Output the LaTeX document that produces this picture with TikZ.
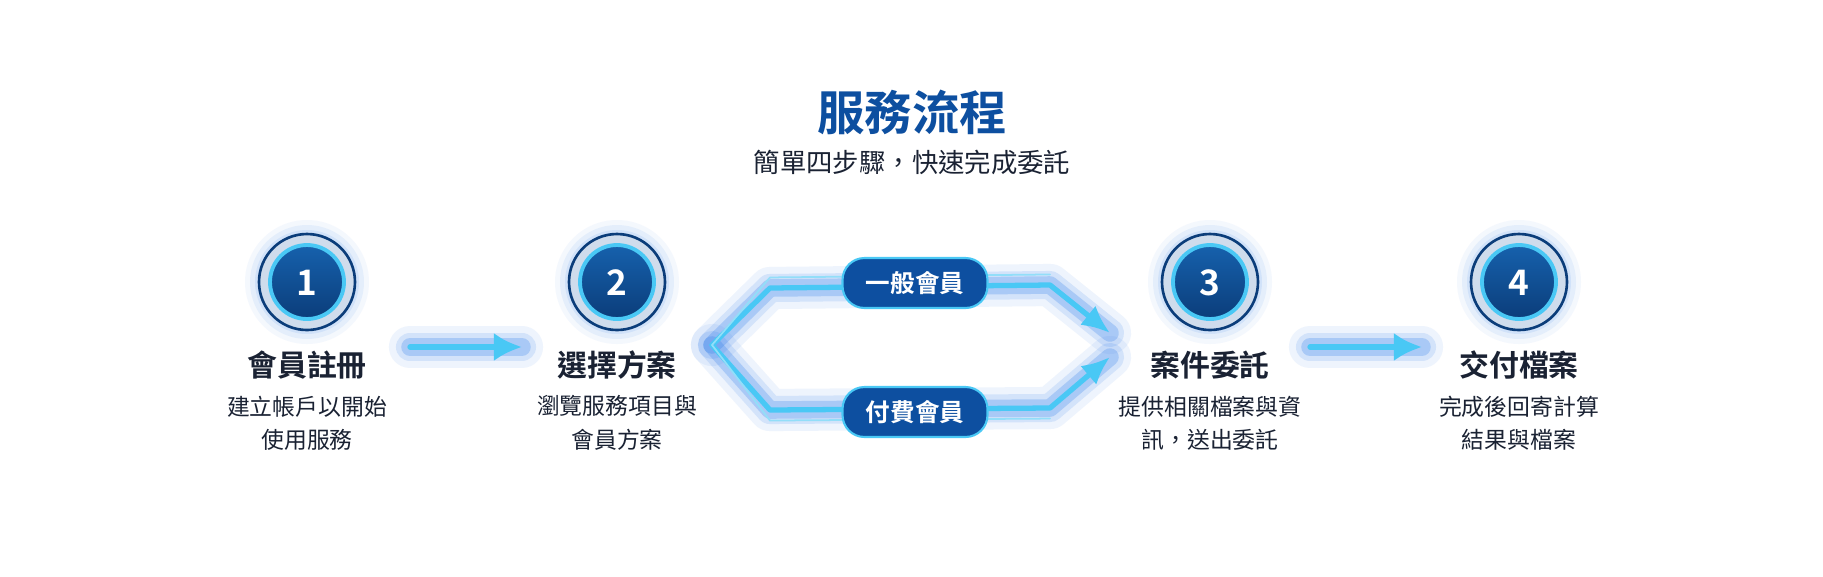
\documentclass[tikz,border=0pt]{standalone}
\usepackage{fontspec}
\setmainfont{Noto Sans CJK TC}
\newfontfamily\cjkb{Noto Sans CJK TC Bold}
\usetikzlibrary{arrows.meta}
\definecolor{navy}{HTML}{0B3D7A}
\definecolor{dblue}{HTML}{0D4FA0}
\definecolor{cyan1}{HTML}{49C8F5}
\definecolor{glow}{HTML}{2F7CEB}
\definecolor{ttl}{HTML}{1A2233}
\begin{document}
\begin{tikzpicture}[x=0.02cm,y=-0.02cm,
  glowline/.style={line cap=round,line join=round},
  ttltext/.style={font=\cjkb\fontsize{17}{20}\selectfont,text=ttl},
  subtext/.style={font=\fontsize{13}{19}\selectfont,text=ttl,align=center},
  pill/.style={rounded corners=12.5pt,minimum width=2.9cm,minimum height=1cm,fill=dblue,draw=cyan1,line width=1.2pt,text=white,font=\cjkb\fontsize{14}{16}\selectfont},
  numtext/.style={text=white,font=\cjkb\fontsize{20}{22}\selectfont}]
\useasboundingbox (0,0) rectangle (1823,576);
\fill[white] (0,0) rectangle (1823,576);
\node[font=\cjkb\fontsize{27}{30}\selectfont,text=dblue] (title) at (912,112) {服務流程};
\node[font=\fontsize{15}{18}\selectfont,text=ttl] (sub) at (912,162) {簡單四步驟，快速完成委託};
% circles
\foreach \i/\x/\n in {1/307/1,2/617/2,3/1210/3,4/1519/4}{
  \foreach \r/\o in {62/0.05,57/0.08,52/0.1}{\fill[glow,opacity=\o] (\x,282) circle[radius=\r];}
  \fill[white!80!dblue] (\x,282) circle[radius=48];
  \draw[navy,line width=1.5pt] (\x,282) circle[radius=48];
  \shade[top color=dblue!85!cyan1,bottom color=navy] (\x,282) circle[radius=37];
  \draw[cyan1,line width=2.2pt] (\x,282) circle[radius=37];
  \node[numtext] (c\i) at (\x,283) {\n};
}
\node[ttltext] (t1) at (307,365) {會員註冊};
\node[subtext] (s1) at (307,423) {建立帳戶以開始\\使用服務};
\node[ttltext] (t2) at (617,365) {選擇方案};
\node[subtext] (s2) at (617,423) {瀏覽服務項目與\\會員方案};
\node[ttltext] (t3) at (1210,365) {案件委託};
\node[subtext] (s3) at (1210,423) {提供相關檔案與資\\訊，送出委託};
\node[ttltext] (t4) at (1519,365) {交付檔案};
\node[subtext] (s4) at (1519,423) {完成後回寄計算\\結果與檔案};
% coordinates
\coordinate (a1s) at (410,347); \coordinate (a1e) at (522,347);
\coordinate (a2s) at (1310,347); \coordinate (a2e) at (1422,347);
\coordinate (br) at (712,345);
\coordinate (u1) at (770,288); \coordinate (u2) at (1050,285); \coordinate (ue) at (1110,333);
\coordinate (l1) at (770,410); \coordinate (l2) at (1050,408); \coordinate (le) at (1110,357);
\coordinate (pu) at (915,283); \coordinate (pl) at (915,412);
% glow layers
\foreach \w/\o in {24/0.08,16/0.14,10/0.25}{
  \draw[glowline,glow,opacity=\o,line width=\w pt] (a1s) -- (a1e);
  \draw[glowline,glow,opacity=\o,line width=\w pt] (a2s) -- (a2e);
  \draw[glowline,glow,opacity=\o,line width=\w pt] (br) -- (u1) -- (u2) -- (ue);
  \draw[glowline,glow,opacity=\o,line width=\w pt] (br) -- (l1) -- (l2) -- (le);
}
\draw[glowline,cyan1,line width=3pt,-{Latex[length=16pt,width=16pt]}] (a1s) -- (a1e);
\draw[glowline,cyan1,line width=3pt,-{Latex[length=16pt,width=16pt]}] (a2s) -- (a2e);
\draw[glowline,cyan1,line width=3pt,-{Latex[length=16pt,width=14pt]}] (br) -- (u1) -- (u2) -- (ue);
\draw[glowline,cyan1,line width=3pt,-{Latex[length=16pt,width=14pt]}] (br) -- (l1) -- (l2) -- (le);
\draw[glowline,white!40!cyan1,line width=1pt] (br) -- ([yshift=6]u1) -- ([yshift=6]u2);
\draw[glowline,white!40!cyan1,line width=1pt] (br) -- ([yshift=-6]l1) -- ([yshift=-6]l2);
\node[pill] (p1) at (pu) {一般會員};
\node[pill] (p2) at (pl) {付費會員};
\end{tikzpicture}
\end{document}
